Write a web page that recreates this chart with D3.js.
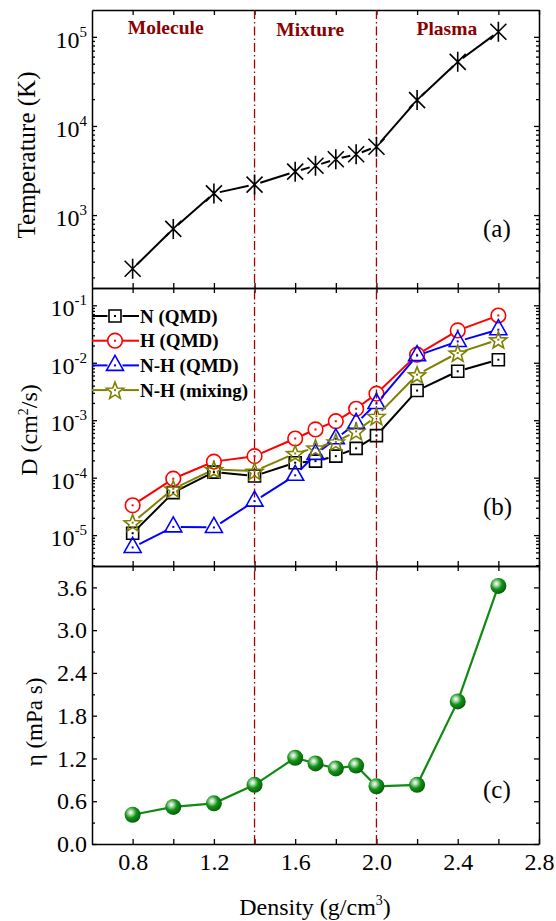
<!DOCTYPE html>
<html>
<head>
<meta charset="utf-8">
<script src="https://cdn.jsdelivr.net/npm/d3@7"></script>
<style>
  body { margin: 0; background: #fff; }
  svg { display: block; }
  text { font-family: "Liberation Serif", "Times New Roman", serif; fill: #000; }
</style>
</head>
<body>
<svg id="chart" width="556" height="921"></svg>
<script>
// density in g/cm3, shared by every panel
const density = [0.8, 1.0, 1.2, 1.4, 1.6, 1.7, 1.8, 1.9, 2.0, 2.2, 2.4, 2.6]
// (a) temperature, K
const temperature = [250, 700, 1750, 2200, 3070, 3580, 4230, 4810, 5850, 19500, 52400, 114000]
// (b) diffusion coefficients, cm2/s
const diffN = [1.08e-5, 5.5e-5, 1.25e-4, 1.07e-4, 1.82e-4, 1.94e-4, 2.37e-4, 3.24e-4, 5.4e-4, 3.28e-3, 7.1e-3, 1.13e-2]
const diffH = [3.3e-5, 9.6e-5, 1.9e-4, 2.37e-4, 4.8e-4, 6.9e-4, 9.6e-4, 1.58e-3, 2.9e-3, 1.38e-2, 3.65e-2, 6.65e-2]
const diffNH = [6.1e-6, 1.39e-5, 1.36e-5, 3.9e-5, 1.1e-4, 2.54e-4, 4.75e-4, 8.8e-4, 1.95e-3, 1.33e-2, 2.35e-2, 3.76e-2]
const diffMix = [1.65e-5, 6.4e-5, 1.39e-4, 1.3e-4, 2.64e-4, 3.3e-4, 4.2e-4, 6.4e-4, 1.17e-3, 6.2e-3, 1.48e-2, 2.52e-2]
const seriesNames = ['N (QMD)', 'H (QMD)', 'N-H (QMD)', 'N-H (mixing)']
// (c) viscosity, mPa s
const viscosity = [0.41, 0.52, 0.57, 0.83, 1.21, 1.13, 1.06, 1.10, 0.81, 0.83, 2.0, 3.62]

const boundaries = [1.4, 2.0]
const regionNames = ['Molecule', 'Mixture', 'Plasma']
const panelTags = ['(a)', '(b)', '(c)']

const xTicks = [0.8, 1.0, 1.2, 1.4, 1.6, 1.8, 2.0, 2.2, 2.4, 2.6, 2.8]
const xLabels = [0.8, 1.2, 1.6, 2.0, 2.4, 2.8]
const tempDecades = [1e3, 1e4, 1e5]
const diffDecades = [1e-1, 1e-2, 1e-3, 1e-4, 1e-5]
const viscMajor = [0, 0.6, 1.2, 1.8, 2.4, 3.0, 3.6]
const viscMinor = [0.3, 0.9, 1.5, 2.1, 2.7, 3.3]

const LEFT = 92
const RIGHT = 539
const ROWS = [10, 288, 566, 844]
const BOUND_COLOR = '#a30000'

const svg = d3.select('#chart')

const x = d3.scaleLinear().domain([0.6, 2.8]).range([LEFT, RIGHT])
const yT = d3.scaleLog().domain([152, 2e5]).range([ROWS[1], ROWS[0]])
const yD = d3.scaleLog().domain([2.9e-6, 0.2]).range([ROWS[2], ROWS[1]])
const yV = d3.scaleLinear().domain([0, 3.9]).range([ROWS[3], ROWS[2]])

function logMinors(scale) {
  const [lo, hi] = scale.domain()
  const out = []
  for (let e = Math.floor(Math.log10(lo)); e <= Math.ceil(Math.log10(hi)); e++) {
    for (let m = 2; m <= 9; m++) {
      const v = m * Math.pow(10, e)
      if (v > lo && v < hi) out.push(v)
    }
  }
  return out
}

function styleAxis(g) {
  g.selectAll('.domain').attr('stroke', '#000').attr('stroke-width', 1.5)
  g.selectAll('.tick line').attr('stroke', '#000').attr('stroke-width', 1.3)
}

function drawFrame(y, top, bottom, majors, minors) {
  const g = svg.append('g').attr('class', 'frame')
  g.append('g').attr('transform', `translate(0,${bottom})`)
    .call(d3.axisBottom(x).tickValues(xTicks).tickSize(-5).tickSizeOuter(0).tickFormat(''))
  g.append('g').attr('transform', `translate(0,${top})`)
    .call(d3.axisTop(x).tickValues(xTicks).tickSize(-5).tickSizeOuter(0).tickFormat(''))
  g.append('g').attr('transform', `translate(${LEFT},0)`)
    .call(d3.axisLeft(y).tickValues(majors).tickSize(-5).tickSizeOuter(0).tickFormat(''))
  g.append('g').attr('transform', `translate(${RIGHT},0)`)
    .call(d3.axisRight(y).tickValues(majors).tickSize(-5).tickSizeOuter(0).tickFormat(''))
  g.append('g').attr('transform', `translate(${LEFT},0)`)
    .call(d3.axisLeft(y).tickValues(minors).tickSize(-3).tickSizeOuter(0).tickFormat(''))
    .call((s) => s.select('.domain').remove())
  g.append('g').attr('transform', `translate(${RIGHT},0)`)
    .call(d3.axisRight(y).tickValues(minors).tickSize(-3).tickSizeOuter(0).tickFormat(''))
    .call((s) => s.select('.domain').remove())
  g.call(styleAxis)
  return g
}

function powerLabels(y, values) {
  const g = svg.append('g').attr('class', 'log-labels')
  const t = g.selectAll('text').data(values).enter().append('text')
    .attr('x', LEFT - 5)
    .attr('y', (d) => y(d) + 11)
    .attr('text-anchor', 'end')
    .attr('font-size', 24)
  t.append('tspan').text('10')
  t.append('tspan').attr('dy', -11).attr('font-size', 15).text((d) => Math.round(Math.log10(d)))
}

drawFrame(yT, ROWS[0], ROWS[1], tempDecades, logMinors(yT))
drawFrame(yD, ROWS[1], ROWS[2], diffDecades, logMinors(yD))
drawFrame(yV, ROWS[2], ROWS[3], viscMajor, viscMinor)

powerLabels(yT, tempDecades)
powerLabels(yD, diffDecades)

svg.append('g')
  .attr('transform', `translate(${LEFT},0)`)
  .call(d3.axisLeft(yV).tickValues(viscMajor).tickSize(0).tickPadding(5).tickFormat(d3.format('.1f')))
  .call((s) => s.select('.domain').remove())
  .selectAll('text').attr('font-size', 24).attr('font-family', '"Liberation Serif", serif')

svg.append('g')
  .attr('transform', `translate(0,${ROWS[3]})`)
  .call(d3.axisBottom(x).tickValues(xLabels).tickSize(0).tickPadding(9).tickFormat(d3.format('.1f')))
  .call((s) => s.select('.domain').remove())
  .selectAll('text').attr('font-size', 24).attr('font-family', '"Liberation Serif", serif')

// phase boundaries
svg.append('g').selectAll('line').data(boundaries).enter().append('line')
  .attr('x1', (d) => x(d)).attr('x2', (d) => x(d))
  .attr('y1', ROWS[0]).attr('y2', ROWS[3])
  .attr('stroke', BOUND_COLOR).attr('stroke-width', 1.3)
  .attr('stroke-dasharray', '9,3,1.5,3')

const regionX = [0.776, 1.507, 2.197]
const regionY = [34, 35.5, 34.5]
svg.append('g').selectAll('text').data(regionNames).enter().append('text')
  .attr('x', (d, i) => x(regionX[i]))
  .attr('y', (d, i) => regionY[i])
  .attr('font-size', 19.5).attr('font-weight', 'bold')
  .style('fill', '#8b0000')
  .text((d) => d)

const tagY = [237, 515, 798]
svg.append('g').selectAll('text').data(panelTags).enter().append('text')
  .attr('x', 483).attr('y', (d, i) => tagY[i])
  .attr('font-size', 25)
  .text((d) => d)

// marker shapes in pixels
const shapes = {
  square: 'M-6,-6h12v12h-12Z',
  circle: d3.symbol(d3.symbolCircle, Math.PI * 7.3 * 7.3)(),
  triangle: 'M0,-10L8.5,5H-8.5Z',
  star: (() => {
    const pts = []
    for (let i = 0; i < 10; i++) {
      const r = i % 2 ? 3.8 : 9
      const a = -Math.PI / 2 + (i * Math.PI) / 5
      pts.push([r * Math.cos(a), r * Math.sin(a) + 1])
    }
    return 'M' + pts.map((p) => p.join(',')).join('L') + 'Z'
  })(),
  asterisk: 'M0,-10V10M-8,-8L8,8M8,-8L-8,8',
}

function gapped(points, gap) {
  return d3.pairs(points).map(([a, b]) => {
    const dx = b[0] - a[0]
    const dy = b[1] - a[1]
    const len = Math.hypot(dx, dy)
    if (len <= 2 * gap) return null
    const ux = dx / len
    const uy = dy / len
    return [a[0] + ux * gap, a[1] + uy * gap, b[0] - ux * gap, b[1] - uy * gap]
  }).filter((s) => s)
}

function drawSeries(values, y, color, shape, gap, dot) {
  const pts = density.map((d, i) => [x(d), y(values[i])])
  const g = svg.append('g')
  g.selectAll('line').data(gapped(pts, gap)).enter().append('line')
    .attr('x1', (s) => s[0]).attr('y1', (s) => s[1])
    .attr('x2', (s) => s[2]).attr('y2', (s) => s[3])
    .attr('stroke', color).attr('stroke-width', 2)
  g.selectAll('path').data(pts).enter().append('path')
    .attr('transform', (p) => `translate(${p[0]},${p[1]})`)
    .attr('d', shapes[shape])
    .attr('fill', 'none').attr('stroke', color).attr('stroke-width', 1.6)
  if (dot) {
    g.selectAll('rect').data(pts).enter().append('rect')
      .attr('x', (p) => p[0] - 1).attr('y', (p) => p[1] - 1)
      .attr('width', 2).attr('height', 2).attr('fill', color)
  }
}

// (a)
drawSeries(temperature, yT, '#000', 'asterisk', 6, false)

// (b)
const diffSeries = [
  { values: diffN, color: '#000', shape: 'square' },
  { values: diffH, color: '#ff0000', shape: 'circle' },
  { values: diffNH, color: '#0000ff', shape: 'triangle' },
  { values: diffMix, color: '#808000', shape: 'star' },
]
diffSeries.forEach((s) => drawSeries(s.values, yD, s.color, s.shape, 7.5, true))

// legend
const legend = svg.append('g')
diffSeries.forEach((s, i) => {
  const cy = 316 + i * 24.7
  const mx = 115
  legend.append('line').attr('x1', LEFT).attr('x2', mx - 7.5).attr('y1', cy).attr('y2', cy)
    .attr('stroke', s.color).attr('stroke-width', 2)
  legend.append('line').attr('x1', mx + 7.5).attr('x2', 139).attr('y1', cy).attr('y2', cy)
    .attr('stroke', s.color).attr('stroke-width', 2)
  legend.append('path').attr('transform', `translate(${mx},${cy})`).attr('d', shapes[s.shape])
    .attr('fill', 'none').attr('stroke', s.color).attr('stroke-width', 1.6)
  legend.append('rect').attr('x', mx - 1).attr('y', cy - 1).attr('width', 2).attr('height', 2).attr('fill', s.color)
  legend.append('text').attr('x', 140).attr('y', cy + 6.5)
    .attr('font-size', 19).attr('font-weight', 'bold')
    .text(seriesNames[i])
})

// (c)
const defs = svg.append('defs')
const grad = defs.append('radialGradient').attr('id', 'ball')
  .attr('cx', '0.38').attr('cy', '0.36').attr('r', '0.7')
grad.append('stop').attr('offset', '0%').attr('stop-color', '#ffffff')
grad.append('stop').attr('offset', '18%').attr('stop-color', '#b5e0b5')
grad.append('stop').attr('offset', '50%').attr('stop-color', '#14911a')
grad.append('stop').attr('offset', '100%').attr('stop-color', '#005a00')

const vPts = density.map((d, i) => [x(d), yV(viscosity[i])])
svg.append('path').datum(vPts)
  .attr('d', d3.line())
  .attr('fill', 'none').attr('stroke', '#118a11').attr('stroke-width', 2.2)
svg.append('g').selectAll('circle').data(vPts).enter().append('circle')
  .attr('cx', (p) => p[0]).attr('cy', (p) => p[1]).attr('r', 8)
  .attr('fill', 'url(#ball)')

// axis titles
svg.append('text').attr('transform', 'translate(35,155) rotate(-90)')
  .attr('text-anchor', 'middle').attr('font-size', 25).text('Temperature (K)')
const dTitle = svg.append('text').attr('transform', 'translate(37,430) rotate(-90)')
  .attr('text-anchor', 'middle').attr('font-size', 24)
dTitle.append('tspan').text('D (cm')
dTitle.append('tspan').attr('dy', -9).attr('font-size', 14).text('2')
dTitle.append('tspan').attr('dy', 9).text('/s)')
svg.append('text').attr('transform', 'translate(42,722) rotate(-90)')
  .attr('text-anchor', 'middle').attr('font-size', 23).text('η (mPa s)')
const xTitle = svg.append('text').attr('x', 315).attr('y', 915)
  .attr('text-anchor', 'middle').attr('font-size', 24)
xTitle.append('tspan').text('Density (g/cm')
xTitle.append('tspan').attr('dy', -10).attr('font-size', 14).text('3')
xTitle.append('tspan').attr('dy', 10).text(')')
</script>
</body>
</html>
